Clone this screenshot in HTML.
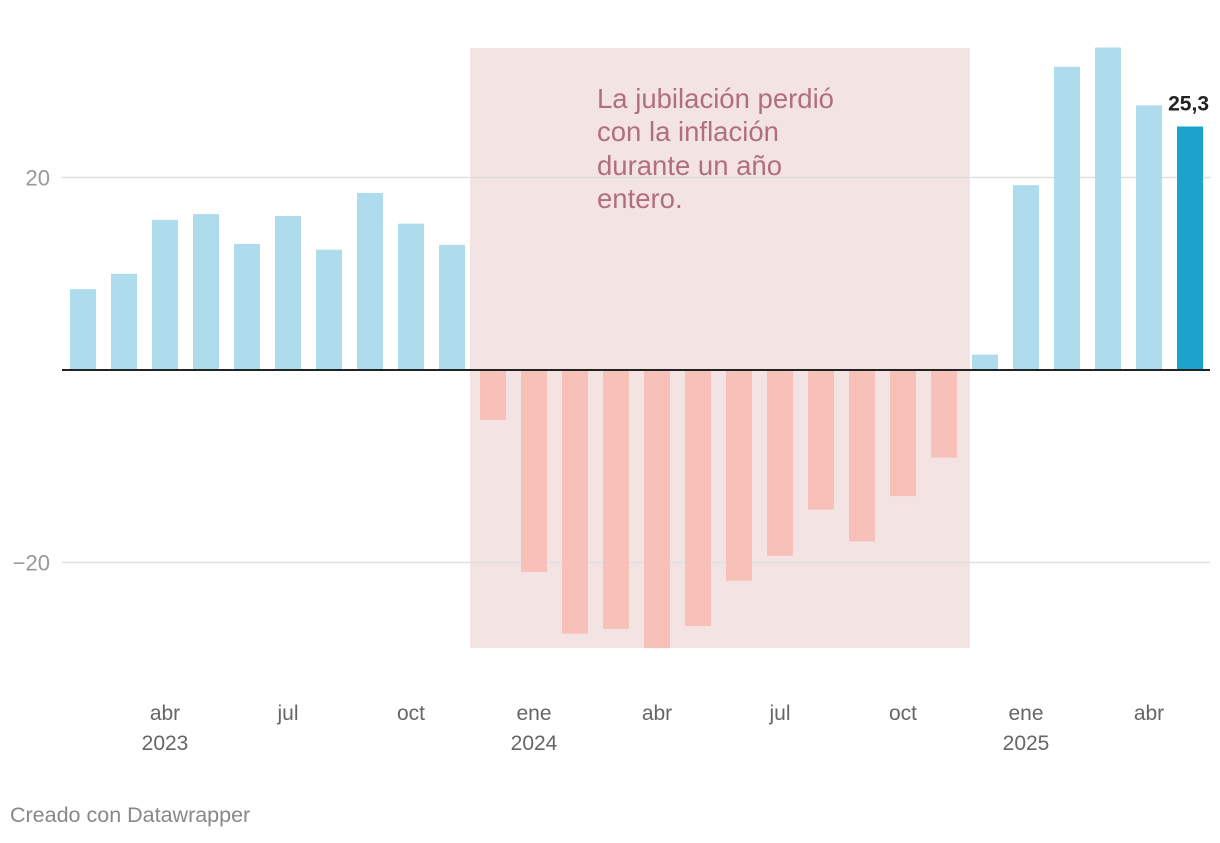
<!DOCTYPE html>
<html><head><meta charset="utf-8"><style>
body{margin:0;background:#fff;font-family:"Liberation Sans",sans-serif;}
svg text{font-family:"Liberation Sans",sans-serif;}
</style></head><body>
<svg id="chart" width="1220" height="838" xmlns="http://www.w3.org/2000/svg">
<rect x="470" y="48" width="500" height="600" fill="#f4e3e3"/>
<g id="grid"></g>
<g id="bars"></g>
<g id="xlabels"></g>
<text x="597" y="108" font-size="27.5" fill="#b06f80">La jubilación perdió</text>
<text x="597" y="141" font-size="27.5" fill="#b06f80">con la inflación</text>
<text x="597" y="175" font-size="27.5" fill="#b06f80">durante un año</text>
<text x="597" y="208" font-size="27.5" fill="#b06f80">entero.</text>
<text x="10" y="822" font-size="21.5" fill="#888">Creado con Datawrapper</text>
</svg>
<script>
const categories=["feb23","mar23","abr23","may23","jun23","jul23","ago23","sep23","oct23","nov23","dic23","ene24","feb24","mar24","abr24","may24","jun24","jul24","ago24","sep24","oct24","nov24","dic24","ene25","feb25","mar25","abr25","may25"];
const values=[8.4,10.0,15.6,16.2,13.1,16.0,12.5,18.4,15.2,13.0,-5.2,-21.0,-27.4,-26.9,-28.9,-26.6,-21.9,-19.3,-14.5,-17.8,-13.1,-9.1,1.6,19.2,31.5,33.5,27.5,25.3];
const yTicks=[20,-20];
const yTickLabels=["20","−20"];
const xLabelIdx=[2,5,8,11,14,17,20,23,26];
const xLabels=["abr","jul","oct","ene","abr","jul","oct","ene","abr"];
const xYears=["2023","","","2024","","","","2025",""];
const ns="http://www.w3.org/2000/svg";
const y=v=>370-v*9.625;
const x=i=>83+i*41.0;
const svg=document.getElementById('chart');
function mk(t,a,p){const e=document.createElementNS(ns,t);for(const k in a)e.setAttribute(k,a[k]);p.appendChild(e);return e;}
const g=document.getElementById('grid');
yTicks.forEach((t,i)=>{
 const l=mk('line',{x1:62,x2:1210,y1:y(t),y2:y(t),stroke:'#e0e0e0','stroke-width':1.5},g);
 
 
 const tx=mk('text',{x:50,y:y(t)+8,'text-anchor':'end','font-size':22,fill:'#999'},g);
 tx.textContent=yTickLabels[i];
 
 
});
const b=document.getElementById('bars');
values.forEach((v,i)=>{
 const last=i===values.length-1;
 const r=mk('rect',{x:x(i)-13,width:26,y:Math.min(y(v),370),height:Math.abs(y(v)-370),fill:v<0?'#f7c1ba':(last?'#1ba3cc':'#aedcec')},b);
 
 
 if(last){const t=mk('text',{x:1209,y:y(v)-16,'text-anchor':'end','font-size':21,'font-weight':'bold',fill:'#222'},b);t.textContent=String(v).replace('.',',');
 
 }
});
const z=mk('line',{x1:62,x2:1210,y1:370,y2:370,stroke:'#222','stroke-width':2},b);


const xl=document.getElementById('xlabels');
xLabelIdx.forEach((idx,i)=>{
 const t=mk('text',{x:x(idx),y:720,'text-anchor':'middle','font-size':21,fill:'#666'},xl);
 t.textContent=xLabels[i];
 
 
 if(xYears[i]){const t2=mk('text',{x:x(idx),y:750,'text-anchor':'middle','font-size':21,fill:'#666'},xl);t2.textContent=xYears[i];
 
 }
});
</script>
</body></html>
